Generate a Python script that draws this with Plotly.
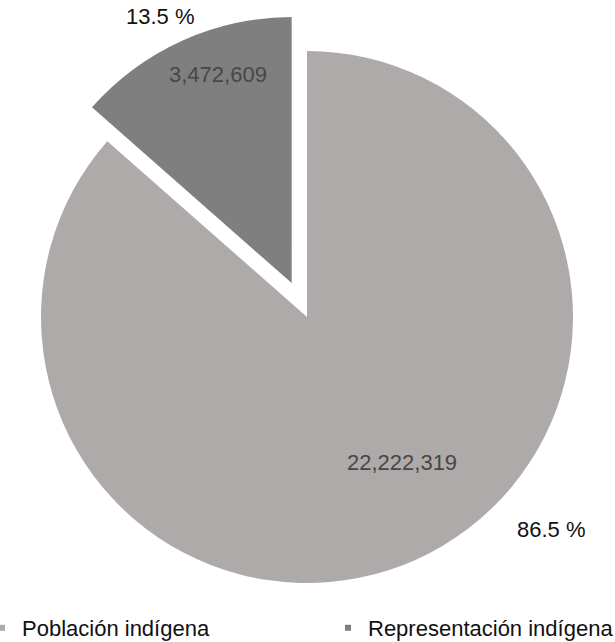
import plotly.graph_objects as go

# ---- data ----
labels = ["Población indígena", "Representación indígena"]
values = [22222319, 3472609]
colors = ["#aeaaa9", "#7f7f7f"]

W, H = 615, 642
total = sum(values)
percents = [v / total * 100 for v in values]

fig = go.Figure()

# pie: centre (307,317) px, radius ~266 px, small slice pulled out
pull = 0.14
cx, cy = 307, 317
half = 266 * (1 + pull)
fig.add_trace(go.Pie(
    labels=labels,
    values=values,
    marker=dict(colors=colors, line=dict(width=0)),
    sort=False,
    direction="clockwise",
    rotation=0,
    pull=[0, pull],
    textinfo="none",
    hoverinfo="label+value+percent",
    showlegend=False,
    domain=dict(x=[(cx - half) / W, (cx + half) / W],
                y=[1 - (cy + half) / H, 1 - (cy - half) / H]),
))

# legend entries with small square markers (one legend per entry)
for i, (lab, col) in enumerate(zip(labels, colors)):
    fig.add_trace(go.Scatter(
        x=[None], y=[None], mode="markers", name=lab,
        marker=dict(symbol="square", size=6, color=col),
        showlegend=True, hoverinfo="skip",
        legend="legend" if i == 0 else "legend2",
    ))

def px(x, y):
    return x / W, 1 - y / H

annotations = []
val_pos = [(402.5, 462), (218, 75)]
for v, (x, y) in zip(values, val_pos):
    ax, ay = px(x, y)
    annotations.append(dict(
        x=ax, y=ay, xref="paper", yref="paper", showarrow=False,
        text=f"{v:,}", xanchor="center", yanchor="middle",
        font=dict(family="Liberation Sans, Arial, sans-serif", size=22, color="#474747"),
    ))
pct_pos = [(551, 529), (160.5, 16)]
for p, (x, y) in zip(percents, pct_pos):
    ax, ay = px(x, y)
    annotations.append(dict(
        x=ax, y=ay, xref="paper", yref="paper", showarrow=False,
        text=f"{p:.1f} %", xanchor="center", yanchor="middle",
        font=dict(family="Liberation Sans, Arial, sans-serif", size=22, color="#111111"),
    ))

legend_font = dict(family="Liberation Sans, Arial, sans-serif", size=22, color="#111111")
fig.update_layout(
    width=W, height=H,
    margin=dict(l=0, r=0, t=0, b=0, autoexpand=False),
    paper_bgcolor="white",
    plot_bgcolor="white",
    xaxis=dict(visible=False),
    yaxis=dict(visible=False),
    annotations=annotations,
    showlegend=True,
    legend=dict(
        orientation="h", x=-18 / W, xanchor="left",
        y=1 - 628 / H, yanchor="middle",
        font=legend_font, bgcolor="rgba(0,0,0,0)",
    ),
    legend2=dict(
        orientation="h", x=328 / W, xanchor="left",
        y=1 - 628 / H, yanchor="middle",
        font=legend_font, bgcolor="rgba(0,0,0,0)",
    ),
)

fig.write_html("out.html", config={"displayModeBar": False},
               post_script="document.body.style.margin='0px';")
